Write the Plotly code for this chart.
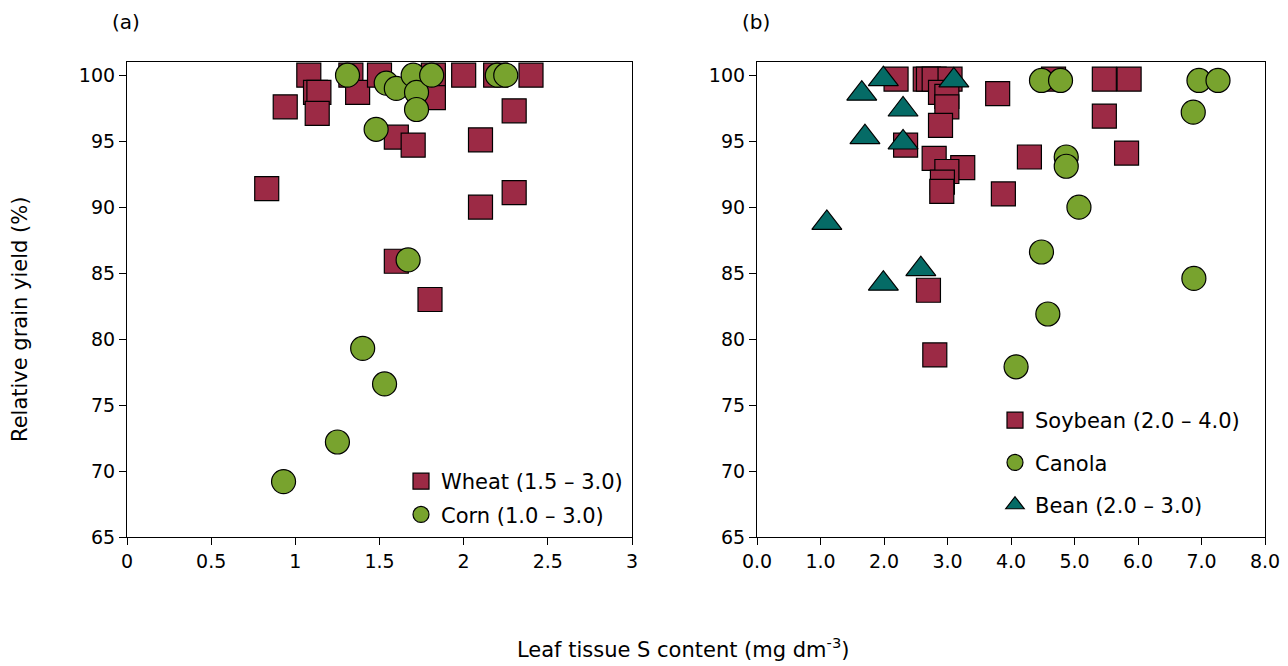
import plotly.graph_objects as go

# Panel (a): wheat and corn
wheat_s = [1.08, 0.94, 0.83, 1.12, 1.14, 1.13, 1.33, 1.37, 1.50, 1.60, 1.70, 1.82, 1.82,
           2.00, 2.19, 2.40, 2.30, 2.10, 2.30, 2.10, 1.60, 1.80]
wheat_y = [100.0, 97.6, 91.4, 98.7, 98.7, 97.1, 100.0, 98.7, 100.0, 95.3, 94.7, 100.0, 98.3,
           100.0, 100.0, 100.0, 97.3, 95.1, 91.1, 90.0, 85.9, 83.0]
corn_s = [1.31, 1.54, 1.60, 1.70, 1.72, 1.72, 1.81, 1.48, 2.20, 2.25, 1.67, 1.40, 1.53, 1.25, 0.93]
corn_y = [100.0, 99.4, 99.0, 100.0, 98.7, 97.4, 100.0, 95.9, 100.0, 100.0, 86.0, 79.3, 76.6, 72.2, 69.2]

# Panel (b): soybean, canola and bean
soy_s = [2.19, 2.65, 2.70, 2.79, 3.04, 2.89, 2.99, 2.99, 2.89, 2.34, 2.79, 3.24, 2.99, 2.92, 2.91,
         3.79, 4.67, 5.47, 5.86, 5.47, 4.29, 5.82, 3.88, 2.70, 2.80]
soy_y = [99.7, 99.7, 99.7, 99.7, 99.7, 98.7, 98.4, 97.6, 96.2, 94.7, 93.7, 93.0, 92.7, 91.9, 91.2,
         98.6, 99.7, 99.7, 99.7, 96.9, 93.8, 94.1, 91.0, 83.7, 78.8]
canola_s = [4.48, 4.78, 4.87, 4.87, 5.07, 6.96, 7.26, 6.87, 4.48, 4.58, 4.08, 6.88]
canola_y = [99.6, 99.6, 93.8, 93.1, 90.0, 99.6, 99.6, 97.2, 86.6, 81.9, 77.9, 84.6]
bean_s = [1.65, 1.99, 2.30, 1.70, 2.30, 3.10, 1.10, 1.99, 2.58]
bean_y = [98.6, 99.7, 97.4, 95.3, 94.9, 99.6, 88.8, 84.2, 85.3]

x_ticks_a = [0, 0.5, 1, 1.5, 2, 2.5, 3]
x_ticks_b = [0, 1, 2, 3, 4, 5, 6, 7, 8]
y_ticks = [65, 70, 75, 80, 85, 90, 95, 100]

RED = "#9C2A45"
GREEN = "#78A32E"
TEAL = "#056B66"
FONT = "DejaVu Sans"
W, H = 1288, 666

edge = dict(color="black", width=1.2)

fig = go.Figure()
fig.add_trace(go.Scatter(x=wheat_s, y=wheat_y, mode="markers", name="Wheat (1.5 \u2013 3.0)",
                         marker=dict(symbol="square", size=24, color=RED, line=edge),
                         xaxis="x", yaxis="y", legend="legend", legendgroup="a1"))
fig.add_trace(go.Scatter(x=corn_s, y=corn_y, mode="markers", name="Corn (1.0 \u2013 3.0)",
                         marker=dict(symbol="circle", size=24, color=GREEN, line=edge),
                         xaxis="x", yaxis="y", legend="legend", legendgroup="a2"))
fig.add_trace(go.Scatter(x=soy_s, y=soy_y, mode="markers", name="Soybean (2.0 \u2013 4.0)",
                         marker=dict(symbol="square", size=24, color=RED, line=edge),
                         xaxis="x2", yaxis="y2", legend="legend2", legendgroup="b1"))
fig.add_trace(go.Scatter(x=canola_s, y=canola_y, mode="markers", name="Canola",
                         marker=dict(symbol="circle", size=24, color=GREEN, line=edge),
                         xaxis="x2", yaxis="y2", legend="legend2", legendgroup="b2"))
fig.add_trace(go.Scatter(x=bean_s, y=bean_y, mode="markers", name="Bean (2.0 \u2013 3.0)",
                         marker=dict(symbol="triangle-up", size=26, color=TEAL, line=edge),
                         xaxis="x2", yaxis="y2", legend="legend2", legendgroup="b3"))

y_top = 1 - 62 / H
y_bot = 1 - 537 / H
dom_a = [127 / W, 632 / W]
dom_b = [757 / W, 1265 / W]

axis_common = dict(showline=True, mirror=True, linecolor="black", linewidth=1.2,
                   ticks="outside", ticklen=7, tickwidth=1.2, tickcolor="black",
                   showgrid=False, zeroline=False, automargin=False,
                   tickfont=dict(family=FONT, size=19, color="black"))

fig.update_layout(
    width=W, height=H,
    margin=dict(l=0, r=0, t=0, b=0, autoexpand=False),
    paper_bgcolor="white", plot_bgcolor="white",
    font=dict(family=FONT, size=19, color="black"),
    xaxis=dict(domain=dom_a, range=[0, 3], tickvals=x_ticks_a,
               ticktext=[f"{v:g}" for v in x_ticks_a], anchor="y", **axis_common),
    yaxis=dict(domain=[y_bot, y_top], range=[65, 101], tickvals=y_ticks, anchor="x", **axis_common),
    xaxis2=dict(domain=dom_b, range=[0, 8], tickvals=x_ticks_b,
                ticktext=[f"{v:.1f}" for v in x_ticks_b], anchor="y2", **axis_common),
    yaxis2=dict(domain=[y_bot, y_top], range=[65, 101], tickvals=y_ticks, anchor="x2", **axis_common),
    legend=dict(x=401 / W, y=1 - 461 / H, xanchor="left", yanchor="top",
                bgcolor="rgba(0,0,0,0)", tracegroupgap=3,
                font=dict(family=FONT, size=21, color="black")),
    legend2=dict(x=995 / W, y=1 - 400 / H, xanchor="left", yanchor="top",
                 bgcolor="rgba(0,0,0,0)", tracegroupgap=12,
                 font=dict(family=FONT, size=21, color="black")),
    annotations=[
        dict(text="(a)", x=126 / W, y=1 - 22 / H, xref="paper", yref="paper",
             showarrow=False, xanchor="center", yanchor="middle",
             font=dict(family=FONT, size=20, color="black")),
        dict(text="(b)", x=756 / W, y=1 - 22 / H, xref="paper", yref="paper",
             showarrow=False, xanchor="center", yanchor="middle",
             font=dict(family=FONT, size=20, color="black")),
        dict(text="Relative grain yield (%)", x=20 / W, y=1 - 320 / H, xref="paper", yref="paper",
             showarrow=False, textangle=-90, xanchor="center", yanchor="middle",
             font=dict(family=FONT, size=21, color="black")),
        dict(text="Leaf tissue S content (mg dm<sup>-3</sup>)", x=683 / W, y=1 - 648 / H,
             xref="paper", yref="paper", showarrow=False, xanchor="center", yanchor="middle",
             font=dict(family=FONT, size=21, color="black")),
    ],
)

fig.write_html("out.html")
